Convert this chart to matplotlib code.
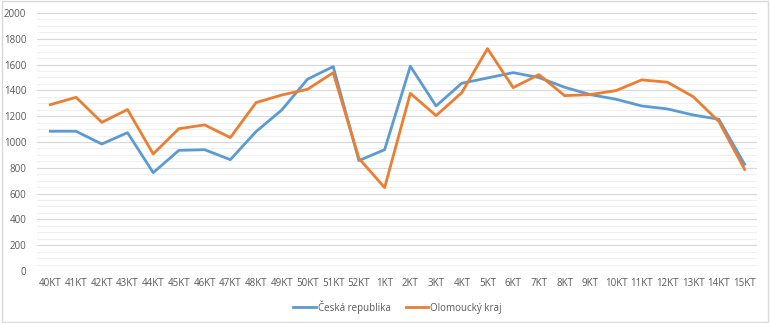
import numpy as np
import matplotlib
matplotlib.use("Agg")
import matplotlib.pyplot as plt
from matplotlib.ticker import MultipleLocator
from matplotlib.patches import Rectangle

weeks = ["40KT", "41KT", "42KT", "43KT", "44KT", "45KT", "46KT", "47KT", "48KT",
         "49KT", "50KT", "51KT", "52KT", "1KT", "2KT", "3KT", "4KT", "5KT", "6KT",
         "7KT", "8KT", "9KT", "10KT", "11KT", "12KT", "13KT", "14KT", "15KT"]

cr = [1083, 1083, 984, 1072, 762, 935, 940, 863, 1080, 1248, 1486, 1584, 856,
      940, 1587, 1279, 1455, 1496, 1537, 1499, 1424, 1367, 1331, 1279, 1256,
      1209, 1176, 827]

olomouc = [1289, 1346, 1152, 1251, 907, 1103, 1132, 1034, 1305, 1364, 1408, 1537,
           873, 646, 1377, 1204, 1382, 1723, 1421, 1522, 1359, 1367, 1398, 1481,
           1463, 1351, 1158, 788]

plt.rcParams['font.family'] = ['Open Sans', 'DejaVu Sans']

fig = plt.figure(figsize=(7.70, 3.23), dpi=100)
ax = fig.add_axes([0.0487, 0.161, 0.935, 0.799])

x = np.arange(len(weeks))
ax.plot(x, cr, color="#5B9BD5", lw=2.0, label="Česká republika", solid_joinstyle="round")
ax.plot(x, olomouc, color="#ED7D31", lw=2.0, label="Olomoucký kraj", solid_joinstyle="round")

ax.set_xlim(-0.5, len(weeks) - 0.5)
ax.set_ylim(0, 2000)
ax.yaxis.set_major_locator(MultipleLocator(200))
ax.yaxis.set_minor_locator(MultipleLocator(50))
ax.grid(which="major", axis="y", color="#D9D9D9", lw=0.9)
ax.grid(which="minor", axis="y", color="#F0F0F0", lw=0.8)
ax.set_axisbelow(True)

ax.set_xticks(x)
ax.set_xticklabels(weeks)
ax.tick_params(axis="both", which="both", length=0, labelsize=7, colors="#595959")
ax.tick_params(axis="y", pad=8)
ax.tick_params(axis="x", pad=5)
for s in ax.spines.values():
    s.set_visible(False)

leg = ax.legend(loc="center", bbox_to_anchor=(0.5, -0.14), ncol=2, frameon=False,
                fontsize=7, handlelength=2.3, handletextpad=0.2, columnspacing=1.6)
for t in leg.get_texts():
    t.set_color("#595959")

fig.patches.append(Rectangle((0.002, 0.003), 0.996, 0.994, transform=fig.transFigure,
                             fill=False, edgecolor="#D9D9D9", lw=1))

fig.savefig("out.png", dpi=100)
